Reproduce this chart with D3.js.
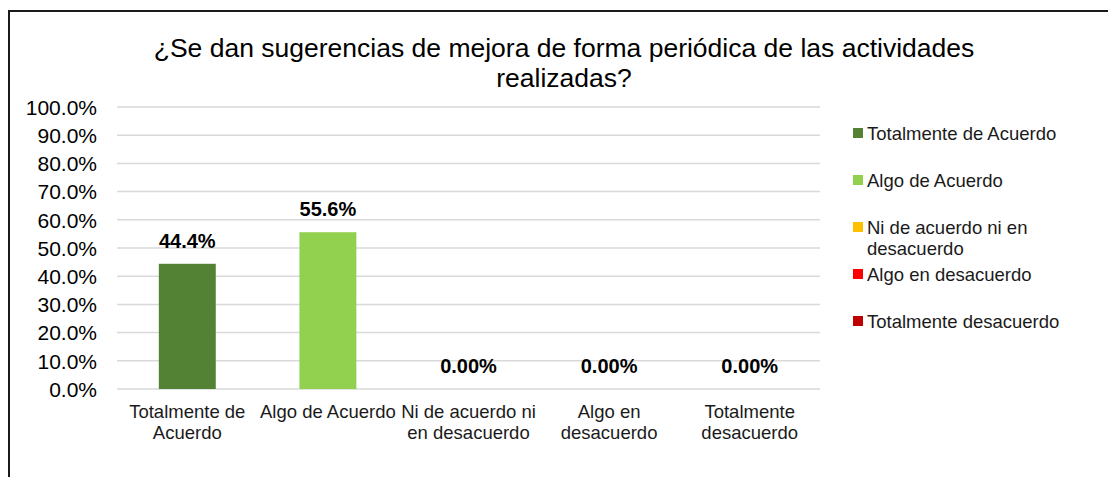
<!DOCTYPE html>
<html>
<head>
<meta charset="utf-8">
<script src="https://cdn.jsdelivr.net/npm/d3@7"></script>
<style>
  html, body { margin: 0; padding: 0; background: #fff; }
  svg { display: block; font-family: "Liberation Sans", Arial, sans-serif; }
</style>
</head>
<body>
<svg id="chart" width="1108" height="477"></svg>
<script>
// ---- data ----
const title = ["¿Se dan sugerencias de mejora de forma periódica de las actividades", "realizadas?"];
const categories = ["Totalmente de Acuerdo", "Algo de Acuerdo", "Ni de acuerdo ni en desacuerdo", "Algo en desacuerdo", "Totalmente desacuerdo"];
const categoryLines = [["Totalmente de", "Acuerdo"], ["Algo de Acuerdo"], ["Ni de acuerdo ni", "en desacuerdo"], ["Algo en", "desacuerdo"], ["Totalmente", "desacuerdo"]];
const values = [0.444, 0.556, 0, 0, 0];
const valueLabels = ["44.4%", "55.6%", "0.00%", "0.00%", "0.00%"];
const colors = ["#548235", "#92d050", "#ffc000", "#ff0000", "#c00000"];
const legendLines = [["Totalmente de Acuerdo"], ["Algo de Acuerdo"], ["Ni de acuerdo ni en", "desacuerdo"], ["Algo en desacuerdo"], ["Totalmente desacuerdo"]];
const yTicks = [0, 0.1, 0.2, 0.3, 0.4, 0.5, 0.6, 0.7, 0.8, 0.9, 1.0];

// ---- layout ----
const svg = d3.select("#chart");
const plot = { left: 117, right: 820, top: 107, bottom: 389 };

// outer border (right/bottom edges fall outside the picture)
svg.append("rect")
  .attr("x", 9).attr("y", 11)
  .attr("width", 1200).attr("height", 600)
  .attr("fill", "none").attr("stroke", "#1a1a1a").attr("stroke-width", 2);

// title
svg.append("text")
  .attr("text-anchor", "middle")
  .attr("font-size", 26.5)
  .attr("fill", "#000")
  .selectAll("tspan").data(title).join("tspan")
  .attr("x", 564)
  .attr("y", (d, i) => 57 + i * 30)
  .text(d => d);

const x = d3.scaleBand().domain(categories).range([plot.left, plot.right]).paddingInner(0.595).paddingOuter(0.2975);
const y = d3.scaleLinear().domain([0, 1]).range([plot.bottom, plot.top]);

// gridlines
svg.append("g")
  .selectAll("line").data(yTicks).join("line")
  .attr("x1", plot.left).attr("x2", plot.right)
  .attr("y1", d => y(d)).attr("y2", d => y(d))
  .attr("stroke", "#d9d9d9").attr("stroke-width", 1.5);

// y axis labels
const yAxis = d3.axisLeft(y).tickValues(yTicks).tickFormat(d3.format(".1%")).tickSize(0).tickPadding(0);
const gy = svg.append("g").attr("transform", `translate(97,0)`).call(yAxis);
gy.select(".domain").remove();
gy.selectAll("text").attr("font-size", 21).attr("fill", "#000")
  .attr("font-family", "'Liberation Sans', Arial, sans-serif").attr("dy", "0.35em");

// bars
svg.append("g")
  .selectAll("rect").data(categories).join("rect")
  .attr("x", d => x(d))
  .attr("width", x.bandwidth())
  .attr("y", (d, i) => y(values[i]))
  .attr("height", (d, i) => y(0) - y(values[i]))
  .attr("fill", (d, i) => colors[i]);

// value labels
svg.append("g")
  .selectAll("text").data(categories).join("text")
  .attr("x", d => x(d) + x.bandwidth() / 2)
  .attr("y", (d, i) => y(values[i]) - 16)
  .attr("text-anchor", "middle")
  .attr("font-size", 20).attr("font-weight", "bold").attr("fill", "#000")
  .text((d, i) => valueLabels[i]);

// x axis labels
const gx = svg.append("g");
categories.forEach((c, i) => {
  const t = gx.append("text")
    .attr("text-anchor", "middle")
    .attr("font-size", 18.5).attr("fill", "#1a1a1a");
  categoryLines[i].forEach((ln, j) => {
    t.append("tspan").attr("x", x(c) + x.bandwidth() / 2).attr("y", 418 + j * 21).text(ln);
  });
});

// legend
const lg = svg.append("g");
legendLines.forEach((lines, i) => {
  const top = 140 + i * 47;
  lg.append("rect").attr("x", 853).attr("y", top - 12).attr("width", 10).attr("height", 10).attr("fill", colors[i]);
  const t = lg.append("text").attr("font-size", 18.5).attr("fill", "#1a1a1a");
  lines.forEach((ln, j) => {
    t.append("tspan").attr("x", 867).attr("y", top + j * 21).text(ln);
  });
});
</script>
</body>
</html>
